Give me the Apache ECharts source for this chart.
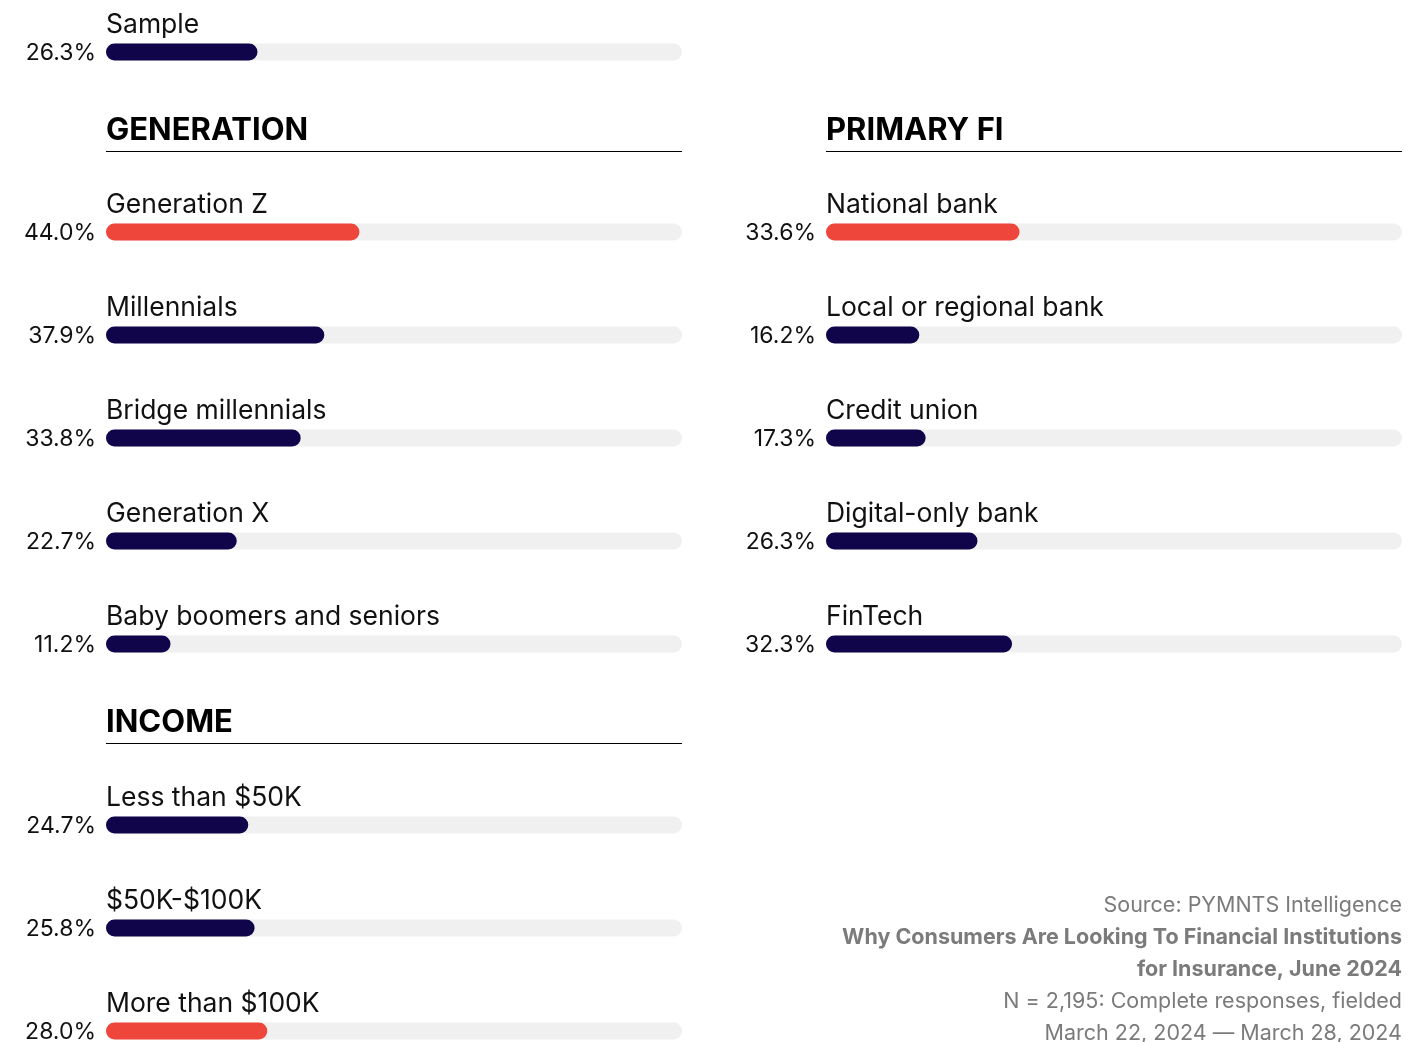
<!DOCTYPE html>
<html>
<head>
<meta charset="utf-8">
<script src="https://cdn.jsdelivr.net/npm/echarts@6/dist/echarts.min.js"></script>
<style>
html, body { margin: 0; padding: 0; background: #fff; }
#chart { width: 1415px; height: 1042px; }
</style>
</head>
<body>
<div id="chart"></div>
<script>
// data
var sampleLabels = ['Sample'];
var sampleValues = [26.3];
var genLabels = ['Generation Z', 'Millennials', 'Bridge millennials', 'Generation X', 'Baby boomers and seniors'];
var genValues = [44.0, 37.9, 33.8, 22.7, 11.2];
var incomeLabels = ['Less than $50K', '$50K-$100K', 'More than $100K'];
var incomeValues = [24.7, 25.8, 28.0];
var fiLabels = ['National bank', 'Local or regional bank', 'Credit union', 'Digital-only bank', 'FinTech'];
var fiValues = [33.6, 16.2, 17.3, 26.3, 32.3];
// which bar is highlighted in each group
var genHighlight = 0, incomeHighlight = 2, fiHighlight = 0;

var FONT = 'Inter, "Noto Sans", sans-serif';
var NAVY = '#10054a', RED = '#ef463c', TRACK = '#f0f0f0';
var BAR_H = 17, TRACK_W = 576, ROW_STEP = 103;

var grids = [], xAxes = [], yAxes = [], series = [];

function addRow(label, value, left, centerY, color) {
    var i = grids.length;
    grids.push({ left: left, top: centerY - BAR_H / 2, width: TRACK_W, height: BAR_H, containLabel: false });
    xAxes.push({ type: 'value', gridIndex: i, min: 0, max: 100, show: false });
    yAxes.push({
        type: 'category', gridIndex: i, data: [label],
        name: label, nameLocation: 'end', nameGap: 18,
        nameTextStyle: { align: 'left', verticalAlign: 'middle', fontSize: 26.5, color: '#111', fontFamily: FONT, padding: [0, 0, 0, 0] },
        axisLine: { show: false }, axisTick: { show: false }, axisLabel: { show: false }
    });
    series.push({
        type: 'bar', xAxisIndex: i, yAxisIndex: i, data: [value],
        barWidth: BAR_H, silent: true,
        showBackground: true,
        backgroundStyle: { color: TRACK, borderRadius: BAR_H / 2 },
        itemStyle: { color: color, borderRadius: BAR_H / 2 },
        label: {
            show: true, position: 'left', distance: 10, offset: [0, 1.5],
            formatter: function (p) { return p.value.toFixed(1) + '%'; },
            fontSize: 23, color: '#111', fontFamily: FONT
        }
    });
}

function addGroup(labels, values, left, firstY, hi) {
    labels.forEach(function (l, k) {
        addRow(l, values[k], left, firstY + k * ROW_STEP, k === hi ? RED : NAVY);
    });
}

addGroup(sampleLabels, sampleValues, 106, 52, -1);
addGroup(genLabels, genValues, 106, 232, genHighlight);
addGroup(incomeLabels, incomeValues, 106, 825, incomeHighlight);
addGroup(fiLabels, fiValues, 826, 232, fiHighlight);

function header(text, x, y) {
    return [
        { type: 'text', x: x, y: y + 2, style: { text: text, font: 'bold 31px ' + FONT, fill: '#000', textVerticalAlign: 'middle' } },
        { type: 'line', shape: { x1: x, y1: y + 22.5, x2: x + TRACK_W, y2: y + 22.5 }, style: { stroke: '#000', lineWidth: 1 } }
    ];
}

var footLines = [
    ['Source: PYMNTS Intelligence', 'normal'],
    ['Why Consumers Are Looking To Financial Institutions', 'bold'],
    ['for Insurance, June 2024', 'bold'],
    ['N = 2,195: Complete responses, fielded', 'normal'],
    ['March 22, 2024 \u2014 March 28, 2024', 'normal']
];
var footer = footLines.map(function (f, k) {
    return {
        type: 'text', x: 1402, y: 906 + k * 32,
        style: { text: f[0], font: f[1] + ' 21.5px ' + FONT, fill: '#7b7b7b', textAlign: 'right', textVerticalAlign: 'middle' }
    };
});

var chart = echarts.init(document.getElementById('chart'));
chart.setOption({
    animation: false,
    grid: grids,
    xAxis: xAxes,
    yAxis: yAxes,
    series: series,
    graphic: [].concat(header('GENERATION', 106, 129), header('INCOME', 106, 721), header('PRIMARY FI', 826, 129), footer)
});
</script>
</body>
</html>
